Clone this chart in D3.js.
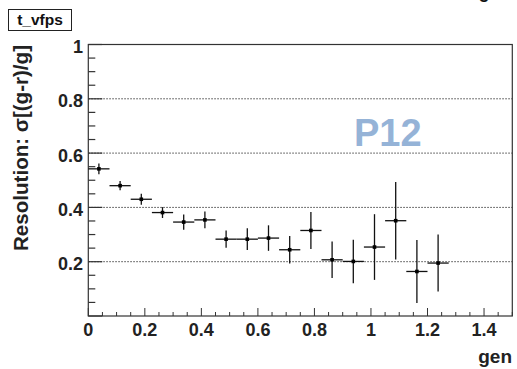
<!DOCTYPE html>
<html>
<head>
<meta charset="utf-8">
<script src="https://cdn.jsdelivr.net/npm/d3@7"></script>
<style>
  html, body { margin: 0; padding: 0; background: #fff; }
  svg { display: block; }
  text { font-family: "Liberation Sans", Arial, sans-serif; font-weight: bold; }
</style>
</head>
<body>
<svg id="chart" width="517" height="369"></svg>
<script>
// ---- data ----
const binCenters = [0.0375, 0.1125, 0.1875, 0.2625, 0.3375, 0.4125, 0.4875, 0.5625, 0.6375, 0.7125, 0.7875, 0.8625, 0.9375, 1.0125, 1.0875, 1.1625, 1.2375];
const binHalfWidth = 0.0375;
const resolution = [0.542, 0.480, 0.430, 0.381, 0.346, 0.354, 0.283, 0.283, 0.287, 0.244, 0.315, 0.207, 0.201, 0.254, 0.351, 0.164, 0.195];
const resolutionErr = [0.020, 0.017, 0.020, 0.020, 0.028, 0.031, 0.032, 0.040, 0.047, 0.051, 0.068, 0.067, 0.080, 0.121, 0.143, 0.116, 0.105];
const xTickLabels = ["0", "0.2", "0.4", "0.6", "0.8", "1", "1.2", "1.4"];
const yTickLabels = ["0.2", "0.4", "0.6", "0.8", "1"];
const gridValues = [0.2, 0.4, 0.6, 0.8];

const svg = d3.select("#chart");
const L = 88.3, R = 512.3, T = 44.5, B = 316;
const x = d3.scaleLinear().domain([0, 1.5]).range([L, R]);
const y = d3.scaleLinear().domain([0, 1]).range([B, T]);

// grid lines
svg.append("g").selectAll("line").data(gridValues).join("line")
  .attr("x1", L).attr("x2", R)
  .attr("y1", d => y(d)).attr("y2", d => y(d))
  .attr("stroke", "#444").attr("stroke-width", 1)
  .attr("stroke-dasharray", "1.5,1.5");

// frame
svg.append("rect").attr("x", L).attr("y", T).attr("width", R - L).attr("height", B - T)
  .attr("fill", "none").attr("stroke", "#333").attr("stroke-width", 1.2);

// x ticks (major + minor)
const xMinor = d3.range(0, 1.5001, 0.05);
svg.append("g").selectAll("line").data(xMinor).join("line")
  .attr("x1", d => x(d)).attr("x2", d => x(d))
  .attr("y1", B)
  .attr("y2", (d, i) => i % 4 === 0 ? B - 8 : B - 4)
  .attr("stroke", "#333").attr("stroke-width", 1);

// y ticks
const yMinor = d3.range(0, 1.0001, 0.05);
svg.append("g").selectAll("line").data(yMinor).join("line")
  .attr("y1", d => y(d)).attr("y2", d => y(d))
  .attr("x1", L)
  .attr("x2", (d, i) => i % 4 === 0 ? L + 14 : L + 7)
  .attr("stroke", "#333").attr("stroke-width", 1.2);

// x tick labels
svg.append("g").selectAll("text").data(xTickLabels).join("text")
  .attr("x", d => x(+d))
  .attr("y", 336)
  .attr("text-anchor", "middle")
  .attr("font-size", 18)
  .attr("fill", "#222")
  .text(d => d);

// y tick labels
svg.append("g").selectAll("text").data(yTickLabels).join("text")
  .attr("x", 83)
  .attr("y", d => y(+d) + 8.5)
  .attr("text-anchor", "end")
  .attr("font-size", 18)
  .attr("fill", "#222")
  .text(d => d);

// error bars
const pts = binCenters.map((c, i) => ({ c, v: resolution[i], e: resolutionErr[i] }));
const gp = svg.append("g");
gp.selectAll("line.h").data(pts).join("line").attr("class", "h")
  .attr("x1", d => x(d.c - binHalfWidth)).attr("x2", d => x(d.c + binHalfWidth))
  .attr("y1", d => y(d.v)).attr("y2", d => y(d.v))
  .attr("stroke", "#111").attr("stroke-width", 1.3);
gp.selectAll("line.v").data(pts).join("line").attr("class", "v")
  .attr("x1", d => x(d.c)).attr("x2", d => x(d.c))
  .attr("y1", d => y(d.v - d.e)).attr("y2", d => y(d.v + d.e))
  .attr("stroke", "#111").attr("stroke-width", 1.3);
gp.selectAll("rect").data(pts).join("rect")
  .attr("x", d => x(d.c) - 1.8).attr("y", d => y(d.v) - 1.8)
  .attr("width", 3.6).attr("height", 3.6).attr("fill", "#000");

// axis titles
svg.append("text")
  .attr("transform", "translate(27.5,45) rotate(-90)")
  .attr("text-anchor", "end")
  .attr("font-size", 20)
  .attr("textLength", 206)
  .attr("lengthAdjust", "spacingAndGlyphs")
  .attr("fill", "#222")
  .text("Resolution: σ[(g-r)/g]");

svg.append("text")
  .attr("x", 512).attr("y", 363)
  .attr("text-anchor", "end")
  .attr("font-size", 19)
  .attr("fill", "#222")
  .text("gen");

// histogram name box
svg.append("rect").attr("x", 8.5).attr("y", 9.5).attr("width", 63).attr("height", 21)
  .attr("fill", "#fff").attr("stroke", "#222").attr("stroke-width", 1);
svg.append("text").attr("x", 40).attr("y", 25).attr("text-anchor", "middle")
  .attr("font-size", 15.5).attr("fill", "#111").text("t_vfps");

// clipped title fragment at top right (cut off in the reference too)
svg.append("text").attr("x", 484).attr("y", -2).attr("text-anchor", "middle")
  .attr("font-size", 18).attr("fill", "#111").text("g");

// P12 label
svg.append("text").attr("x", 354).attr("y", 145.5)
  .attr("font-size", 38).attr("fill", "#95b3d7").text("P12");
</script>
</body>
</html>
